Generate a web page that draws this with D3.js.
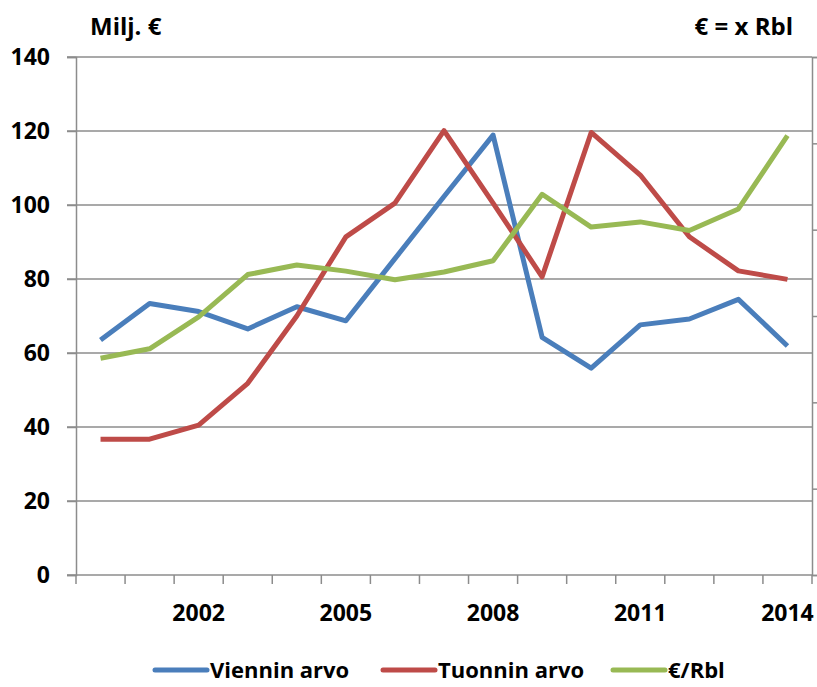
<!DOCTYPE html>
<html>
<head>
<meta charset="utf-8">
<script src="https://cdn.jsdelivr.net/npm/d3@7"></script>
<style>
  body { margin: 0; background: #fff; }
  text { font-family: "Open Sans", sans-serif; font-weight: bold; fill: #000; }
</style>
</head>
<body>
<div id="chart"></div>
<script>
// vuodet ja sarjat
const vuodet = [2000, 2001, 2002, 2003, 2004, 2005, 2006, 2007, 2008, 2009, 2010, 2011, 2012, 2013, 2014];
const vienninArvo = [63.5, 73.4, 71.2, 66.5, 72.5, 68.7, 85.5, 102.3, 118.9, 64.2, 55.9, 67.6, 69.2, 74.5, 61.9];
const tuonninArvo = [36.7, 36.7, 40.5, 51.8, 70.0, 91.4, 100.5, 120.1, 100.5, 80.6, 119.6, 108.1, 91.4, 82.2, 79.9];
const euroRbl = [25.1, 26.2, 29.9, 34.8, 35.9, 35.2, 34.2, 35.1, 36.4, 44.1, 40.3, 40.9, 39.9, 42.4, 50.9];
const vasenTicks = [0, 20, 40, 60, 80, 100, 120, 140];
const oikeaTicks = [0, 10, 20, 30, 40, 50, 60];
const nakyvatVuodet = [2002, 2005, 2008, 2011, 2014];

const sarjat = [
  { nimi: "Viennin arvo", arvot: vienninArvo, vari: "#4a7ebb", akseli: "vasen" },
  { nimi: "Tuonnin arvo", arvot: tuonninArvo, vari: "#be4b48", akseli: "vasen" },
  { nimi: "€/Rbl", arvot: euroRbl, vari: "#98b954", akseli: "oikea" }
];

const leveys = 817, korkeus = 687;
const vasen = 76, oikea = 812, yla = 57, ala = 575;

const svg = d3.select("#chart").append("svg")
  .attr("width", leveys)
  .attr("height", korkeus);

const x = d3.scaleBand().domain(vuodet).range([vasen, oikea]).padding(0);
const yV = d3.scaleLinear().domain([0, 140]).range([ala, yla]);
const yO = d3.scaleLinear().domain([0, 60]).range([ala, yla]);

// ruudukko
svg.append("g")
  .selectAll("line")
  .data(vasenTicks)
  .join("line")
  .attr("x1", vasen - 9)
  .attr("x2", oikea)
  .attr("y1", d => yV(d))
  .attr("y2", d => yV(d))
  .attr("stroke", "#8c8c8c")
  .attr("stroke-width", 1.5);

// vasen akseli
const vasenAks = svg.append("g")
  .attr("transform", `translate(${vasen},0)`)
  .call(d3.axisLeft(yV).tickValues(vasenTicks).tickSize(9).tickPadding(17));
vasenAks.select(".domain").attr("stroke", "#8c8c8c").attr("stroke-width", 1.5);
vasenAks.selectAll(".tick line").attr("stroke", "#8c8c8c").attr("stroke-width", 1.5);
vasenAks.selectAll(".tick text").style("font-size", "23px");

// oikea akseli
const oikeaAks = svg.append("g")
  .attr("transform", `translate(${oikea},0)`)
  .call(d3.axisRight(yO).tickValues(oikeaTicks).tickSize(6).tickFormat(""));
oikeaAks.select(".domain").attr("stroke", "#8c8c8c").attr("stroke-width", 1.5);
oikeaAks.selectAll(".tick line").attr("stroke", "#8c8c8c").attr("stroke-width", 1.5);

// ala-akseli
const rajat = vuodet.map(v => x(v)).concat([oikea]);
svg.append("g")
  .selectAll("line")
  .data(rajat)
  .join("line")
  .attr("x1", d => d)
  .attr("x2", d => d)
  .attr("y1", ala)
  .attr("y2", ala + 9)
  .attr("stroke", "#8c8c8c")
  .attr("stroke-width", 1.5);

svg.append("g")
  .selectAll("text")
  .data(nakyvatVuodet)
  .join("text")
  .attr("x", d => x(d) + x.bandwidth() / 2)
  .attr("y", 621)
  .attr("text-anchor", "middle")
  .style("font-size", "23px")
  .text(d => d);

// viivat
sarjat.forEach(s => {
  const y = s.akseli === "vasen" ? yV : yO;
  const viiva = d3.line()
    .x((d, i) => x(vuodet[i]) + x.bandwidth() / 2)
    .y(d => y(d));
  svg.append("path")
    .datum(s.arvot)
    .attr("d", viiva)
    .attr("fill", "none")
    .attr("stroke", s.vari)
    .attr("stroke-width", 5)
    .attr("stroke-linejoin", "round");
});

// otsikot
svg.append("text").attr("x", 90).attr("y", 35).style("font-size", "24px").text("Milj. €");
svg.append("text").attr("x", 793).attr("y", 35).attr("text-anchor", "end").style("font-size", "24px").text("€ = x Rbl");

// selite
const seliteX = [155, 383, 613];
const selite = svg.append("g");
sarjat.forEach((s, i) => {
  selite.append("line")
    .attr("x1", seliteX[i]).attr("x2", seliteX[i] + 52)
    .attr("y1", 670).attr("y2", 670)
    .attr("stroke", s.vari).attr("stroke-width", 5).attr("stroke-linecap", "round");
  selite.append("text")
    .attr("x", seliteX[i] + 55).attr("y", 678)
    .style("font-size", "22px")
    .text(s.nimi);
});
</script>
</body>
</html>
